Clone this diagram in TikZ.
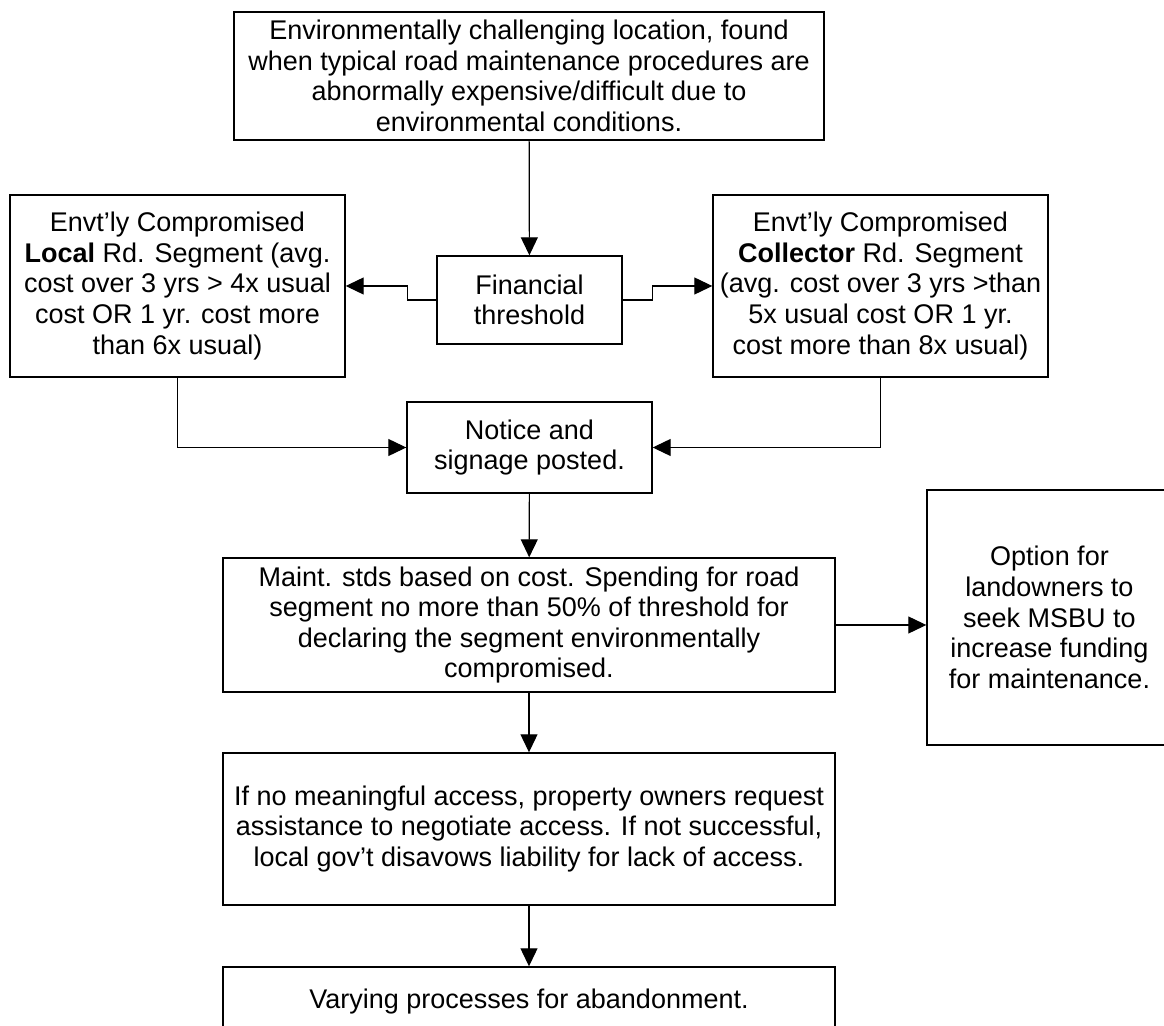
\documentclass[tikz,border=0pt]{standalone}
\usepackage{fontspec}
\setmainfont{Liberation Sans}
\usetikzlibrary{arrows.meta}
\tikzset{
  box/.style={draw, line width=0.7pt, align=center, inner sep=0pt,
    font=\fontsize{13.5}{15.3}\selectfont},
  link/.style={-{Triangle[length=9pt,width=8.5pt]}, line width=0.6pt}
}
\begin{document}
\begin{tikzpicture}[x=0.5pt,y=-0.5pt]
\clip (0,0) rectangle (1164,1026);
\fill[white] (0,0) rectangle (1164,1026);

\node[box, minimum width=295pt, minimum height=64pt](A) at (529,76) {Environmentally challenging location, found\\
                                        when typical road maintenance procedures are\\
                                        abnormally expensive/difficult due to\\
                                        environmental conditions.};
\node[box, minimum width=167.5pt, minimum height=91pt](B) at (177.5,286) {Envt’ly Compromised\\
                                        \textbf{Local} Rd. Segment (avg.\\
                                        cost over 3 yrs > 4x usual\\
                                        cost OR 1 yr. cost more\\
                                        than 6x usual)};
\node[box, minimum width=92.5pt, minimum height=44pt](C) at (529.5,300) {Financial\\ threshold};
\node[box, minimum width=167.5pt, minimum height=91pt](D) at (880.5,286) {Envt’ly Compromised\\
                                        \textbf{Collector} Rd. Segment\\
                                        (avg. cost over 3 yrs >than\\
                                        5x usual cost OR 1 yr.\\
                                        cost more than 8x usual)};
\node[box, minimum width=122.5pt, minimum height=45.5pt](E) at (529.5,447.5) {Notice and\\ signage posted.};
\node[box, minimum width=306pt, minimum height=67pt](F) at (529,625) {Maint. stds based on cost. Spending for road\\
                                        segment no more than 50\% of threshold for\\
                                        declaring the segment environmentally\\
                                        compromised.};
\node[box, minimum width=122.5pt, minimum height=127.5pt](G) at (1049.5,617.5) {Option for\\
                                        landowners to\\
                                        seek MSBU to\\
                                        increase funding\\
                                        for maintenance.};
\node[box, minimum width=306pt, minimum height=76pt](H) at (529,829) {If no meaningful access, property owners request\\
                                        assistance to negotiate access. If not successful,\\
                                        local gov’t disavows liability for lack of access.};
\node[box, minimum width=306pt, minimum height=35pt](I) at (529,1002) {Varying processes for abandonment.};

\draw[link] (A) -- (C);
\draw[link] (C.west) -- ++(-29,0) |- (B.east);
\draw[link] (C.east) -- ++(30,0) |- (D.west);
\draw[link] (B.south) |- (E.west);
\draw[link] (D.south) |- (E.east);
\draw[link] (E) -- (F);
\draw[link] (F.east) -- (F.east -| G.west);
\draw[link] (F) -- (H);
\draw[link] (H) -- (I);

\end{tikzpicture}
\end{document}
